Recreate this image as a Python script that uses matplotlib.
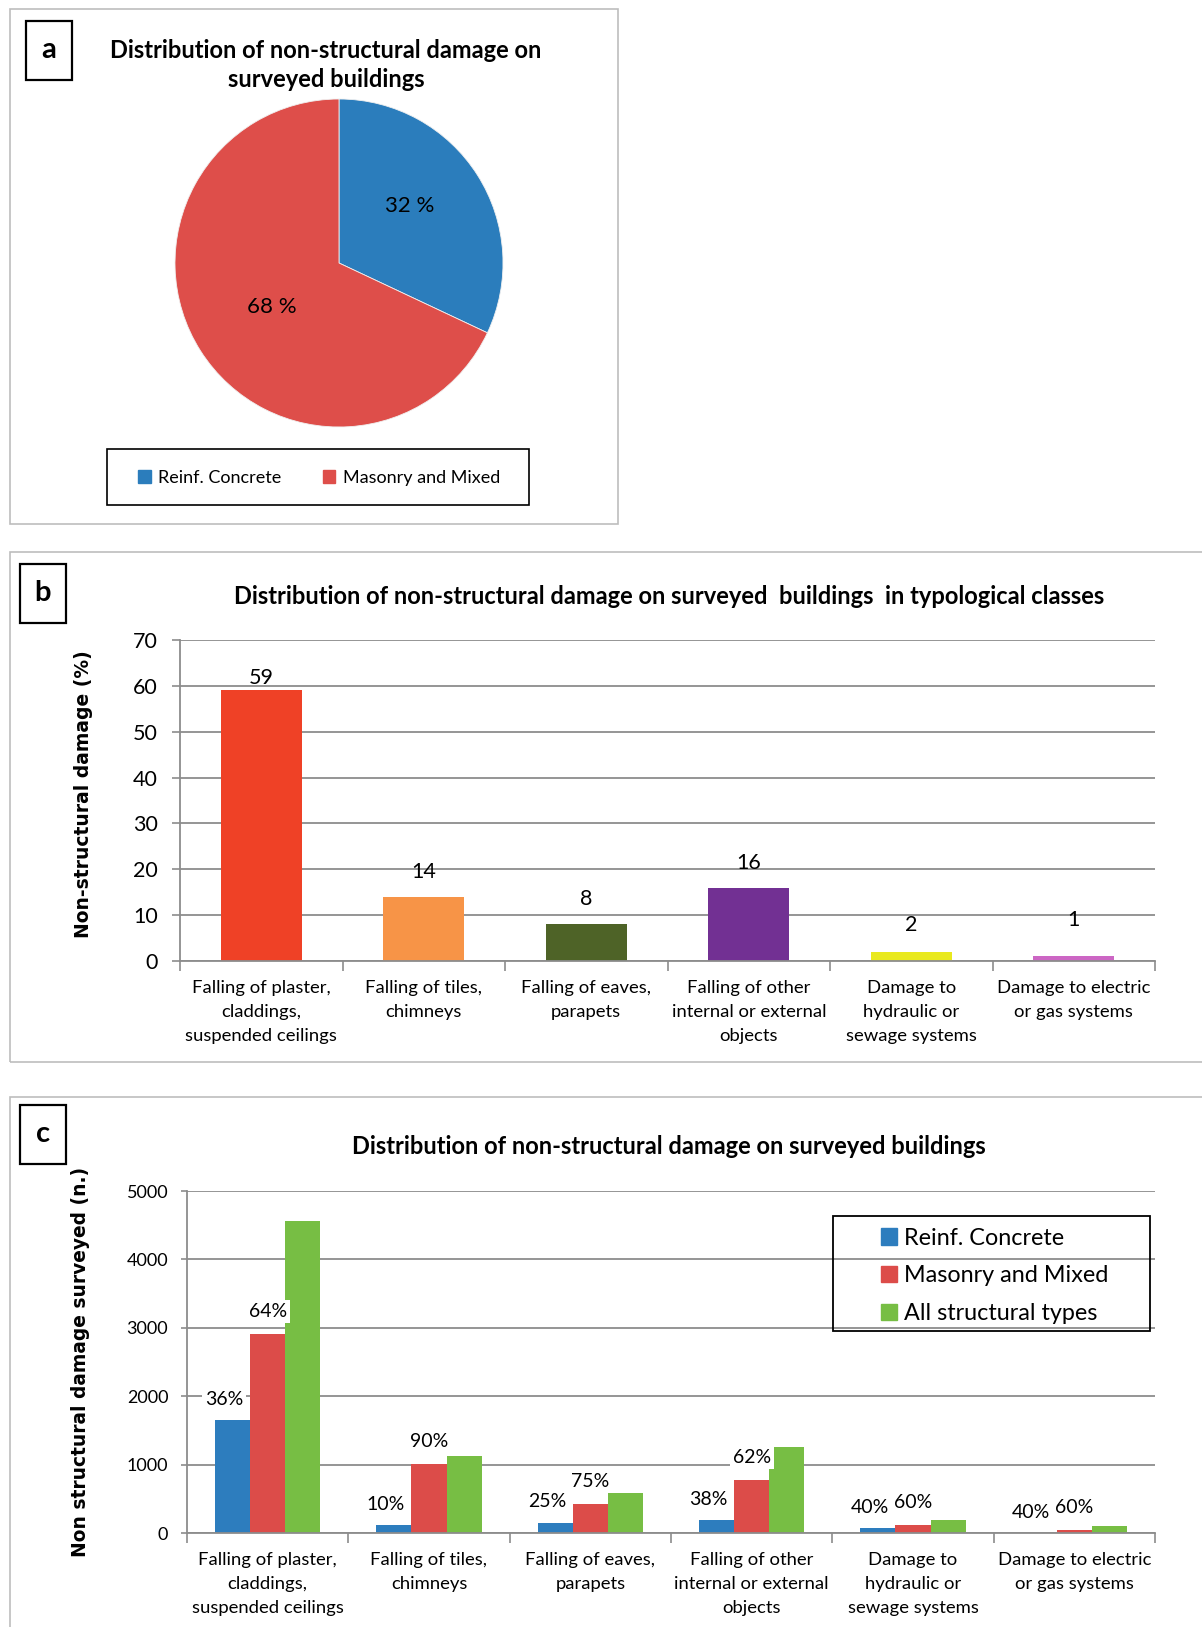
import matplotlib
matplotlib.use('Agg')
import matplotlib.pyplot as plt
from matplotlib.patches import Rectangle, Patch
import numpy as np

W, H = 1202, 1627

# pie data
pie_labels = ['Reinf. Concrete', 'Masonry and Mixed']
pie_values = [32, 68]
pie_colors = ['#2B7DBC', '#DE4E4A']

# damage categories (shared by b and c)
categories = ['Falling of plaster,\ncladdings,\nsuspended ceilings',
              'Falling of tiles,\nchimneys',
              'Falling of eaves,\nparapets',
              'Falling of other\ninternal or external\nobjects',
              'Damage to\nhydraulic or\nsewage systems',
              'Damage to electric\nor gas systems']

# panel b: percentage of damage
damage_pct = [59, 14, 8, 16, 2, 1]
damage_colors = ['#EF4126', '#F79447', '#4E6327', '#723093', '#E9E91E', '#CC66C4']

# panel c: number of damages surveyed
rc_counts = [1650, 110, 150, 190, 70, 0]
mas_counts = [2910, 1010, 430, 780, 120, 50]
all_counts = [4560, 1120, 590, 1260, 190, 100]
rc_share = ['36%', '10%', '25%', '38%', '40%', '40%']
mas_share = ['64%', '90%', '75%', '62%', '60%', '60%']
series_labels = ['Reinf. Concrete', 'Masonry and Mixed', 'All structural types']
series_colors = ['#2D7DBE', '#DC4C49', '#77BE44']

FONT = 'Lato'
GRID = '#8c8c8c'


def fx(px):
    return px / W


def fy(py):
    return 1 - py / H


def axes_px(fig, left, top, right, bottom):
    return fig.add_axes([fx(left), fy(bottom), (right - left) / W, (bottom - top) / H])


def panel_box(fig, left, top, right, bottom):
    fig.add_artist(Rectangle((fx(left), fy(bottom)), (right - left) / W, (bottom - top) / H,
                             transform=fig.transFigure, fill=False, edgecolor='#bdbdbd', lw=1.2))


def letter_box(fig, left, top, letter):
    fig.add_artist(Rectangle((fx(left), fy(top + 59)), 46 / W, 59 / H,
                             transform=fig.transFigure, fill=False, edgecolor='black', lw=1.6))
    fig.text(fx(left + 23), fy(top + 29), letter, ha='center', va='center',
             fontsize=21, fontweight='bold', family=FONT)


def style_bar_axes(ax, ymax, step, tick_size, tick_len, tick_pad):
    n = len(categories)
    ax.set_xlim(-0.5, n - 0.5)
    ax.set_ylim(0, ymax)
    ax.set_yticks(np.arange(0, ymax + 1, step))
    ax.yaxis.grid(True, color=GRID, lw=1.3)
    ax.set_axisbelow(True)
    for s in ['top', 'right']:
        ax.spines[s].set_visible(False)
    for s in ['left', 'bottom']:
        ax.spines[s].set_color(GRID)
        ax.spines[s].set_linewidth(1.3)
    ax.set_xticks(range(n))
    ax.set_xticklabels(categories, fontsize=13.3, family=FONT, linespacing=1.58)
    ax.set_xticks(np.arange(-0.5, n), minor=True)
    ax.tick_params(axis='x', which='major', length=0, pad=14)
    ax.tick_params(axis='x', which='minor', length=7, color=GRID, width=1.2)
    ax.tick_params(axis='y', length=tick_len, color=GRID, width=1.2, pad=tick_pad,
                   labelsize=tick_size)
    for t in ax.get_yticklabels():
        t.set_family(FONT)


fig = plt.figure(figsize=(W / 100, H / 100), dpi=100)

# ---- a: pie ----
panel_box(fig, 10, 9, 618, 524)
letter_box(fig, 26, 21, 'a')
fig.text(fx(326), fy(65), 'Distribution of non-structural damage on\nsurveyed buildings',
         ha='center', va='center', fontsize=17, fontweight='bold', family=FONT, linespacing=1.3)
r = 164
axp = axes_px(fig, 339 - r, 263 - r, 339 + r, 263 + r)
wedges, _, autotexts = axp.pie(pie_values, colors=pie_colors, startangle=90, counterclock=False,
                               autopct=lambda p: f'{p:.0f} %', pctdistance=0.55,
                               wedgeprops=dict(edgecolor='#f0f0f0', lw=0.6),
                               textprops=dict(fontsize=16, family=FONT))
# pull the percentage labels a little off the slice bisectors
for t, (dx, dy) in zip(autotexts, [(0.43, 0.35), (-0.41, -0.27)]):
    t.set_position((dx, dy))
axp.set_xlim(-1.0, 1.0)
axp.set_ylim(-1.0, 1.0)
axp.set_aspect('equal')
fig.add_artist(Rectangle((fx(107), fy(505)), 422 / W, 56 / H, transform=fig.transFigure,
                         fill=False, edgecolor='black', lw=1.2))
fig.legend(handles=[Patch(color=c) for c in pie_colors], labels=pie_labels, ncol=2,
           loc='center', bbox_to_anchor=(fx(319), fy(478)), frameon=False,
           prop=dict(family=FONT, size=13), handlelength=0.7, handleheight=0.7,
           handletextpad=0.4, columnspacing=2.3)

# ---- b: percentage bars ----
panel_box(fig, 10, 552, 1215, 1062)
letter_box(fig, 20, 564, 'b')
fig.text(fx(669), fy(597), 'Distribution of non-structural damage on surveyed  buildings  in typological classes',
         ha='center', va='center', fontsize=17, fontweight='bold', family=FONT)
axb = axes_px(fig, 180, 640, 1155, 961)
x = np.arange(len(categories))
axb.bar(x, damage_pct, width=0.5, color=damage_colors)
style_bar_axes(axb, 70, 10, 15.5, 6, 10)
b_offsets = [9, 18, 18, 18, 19, 26]
for xi, v, off in zip(x, damage_pct, b_offsets):
    axb.annotate(str(v), (xi, v), xytext=(0, off), textcoords='offset points',
                 ha='center', va='center', fontsize=15.5, family=FONT)
axb.set_ylabel('Non-structural damage (%)', fontsize=13.5, fontweight='bold')
axb.yaxis.set_label_coords(-0.089, 0.52)

# ---- c: counts by structural type ----
panel_box(fig, 10, 1097, 1215, 1640)
letter_box(fig, 20, 1105, 'c')
fig.text(fx(669), fy(1147), 'Distribution of non-structural damage on surveyed buildings',
         ha='center', va='center', fontsize=17, fontweight='bold', family=FONT)
axc = axes_px(fig, 187, 1191, 1155, 1533)
bw = 0.217
for k, (vals, col) in enumerate(zip([rc_counts, mas_counts, all_counts], series_colors)):
    axc.bar(x + (k - 1) * bw, vals, width=bw, color=col, zorder=2)
style_bar_axes(axc, 5000, 1000, 13, 4.5, 9)
for xi, v, s in zip(x, rc_counts, rc_share):
    axc.annotate(s, (xi - bw, v), xytext=(-6, 15), textcoords='offset points', ha='center',
                 va='center', fontsize=14, family=FONT, zorder=3,
                 bbox=dict(boxstyle='square,pad=0.15', fc='white', ec='none'))
for xi, v, s in zip(x, mas_counts, mas_share):
    axc.annotate(s, (xi, v), xytext=(0, 16), textcoords='offset points', ha='center',
                 va='center', fontsize=14, family=FONT, zorder=3,
                 bbox=dict(boxstyle='square,pad=0.15', fc='white', ec='none'))
axc.set_ylabel('Non structural damage surveyed (n.)', fontsize=13.4, fontweight='bold')
axc.yaxis.set_label_coords(-0.1, 0.5)
fig.add_artist(Rectangle((fx(833), fy(1331)), 317 / W, 115 / H, transform=fig.transFigure,
                         fill=False, edgecolor='black', lw=1.3, zorder=5))
fig.legend(handles=[Patch(color=c) for c in series_colors], labels=series_labels,
           loc='upper left', bbox_to_anchor=(fx(869), fy(1216)), frameon=False,
           prop=dict(family=FONT, size=16.8), handlelength=0.7, handleheight=0.7,
           handletextpad=0.3, labelspacing=0.72, borderpad=0)

fig.savefig('out.png', dpi=100, facecolor='white')
